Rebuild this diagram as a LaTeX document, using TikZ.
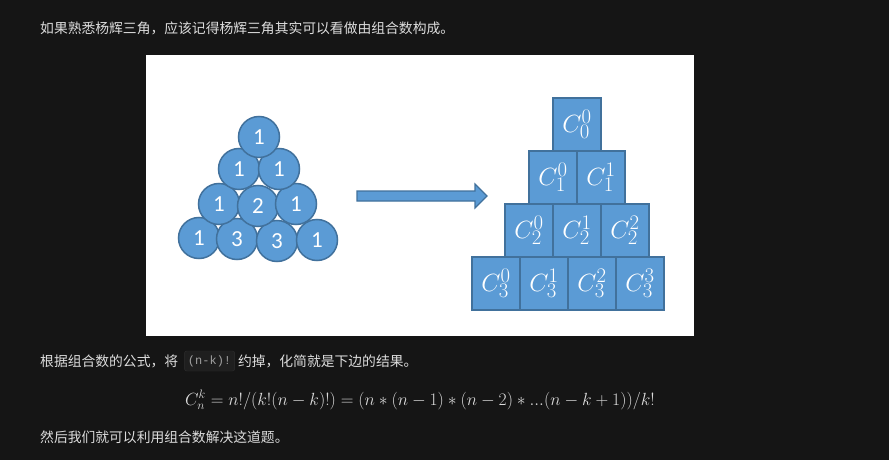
\documentclass[tikz,border=0pt]{standalone}
\usepackage{fontspec}
\newfontfamily\cjk{Noto Sans CJK SC}
\newfontfamily\calibri{Carlito}
\newfontfamily\codefont{Liberation Mono}
\usepackage{tikz}
\usetikzlibrary{positioning}

\definecolor{pagebg}{HTML}{151515}
\definecolor{pagetxt}{HTML}{DCDCDC}
\definecolor{codebg}{HTML}{1F1F1F}
\definecolor{codeline}{HTML}{2E2E2E}
\definecolor{codetxt}{HTML}{A0A0A0}
\definecolor{ballfill}{HTML}{5B9BD5}
\definecolor{ballline}{HTML}{41719C}

\tikzset{
  cntext/.style={anchor=west, inner sep=0pt, text=pagetxt,
                 font=\cjk\fontsize{13.8}{16}\selectfont},
  ball/.style={circle, draw=ballline, fill=ballfill, line width=1.5pt,
               minimum size=41pt, inner sep=0pt, text=white,
               font=\calibri\fontsize{23}{26}\selectfont},
  cell/.style={rectangle, draw=ballline, fill=ballfill, line width=1.5pt,
               minimum width=48pt, minimum height=53pt, inner sep=0pt,
               text=white, font=\fontsize{24.88}{28}\selectfont},
  codebox/.style={draw=codeline, fill=codebg, rounded corners=2pt,
                  minimum width=50pt, minimum height=20pt, inner sep=0pt,
                  text=codetxt, font=\codefont\fontsize{12}{14}\selectfont}
}

\begin{document}
\begin{tikzpicture}[x=1pt,y=-1pt]
\useasboundingbox (0,0) rectangle (889,460);
\fill[pagebg] (0,0) rectangle (889,460);

\node[cntext] (intro) at (40,28)
  {如果熟悉杨辉三角，应该记得杨辉三角其实可以看做由组合数构成。};

% picture panel
\fill[white] (146,55) rectangle (694,336);

% triangle of numbers
\foreach \x/\y/\v [count=\i] in {199/238/1,237/239/3,277/241/3,317/240/1,
                                 219/204/1,258/206/2,296/204/1,
                                 239/169/1,279/169/1,259/137/1}
  \node[ball] (ball\i) at (\x,\y) {\v};

% block arrow
\fill[ballfill,draw=ballline,line width=1.2pt]
  (357,191) -- (475,191) -- (475,184) -- (487,196)
  -- (475,208) -- (475,201) -- (357,201) -- cycle;

% triangle of binomials
\foreach \r/\s in {0/553,1/529,2/505,3/472}
  \foreach \k in {0,...,\r}
    \node[cell] (cell\r\k) at ({\s+24+48*\k},{124.5+53*\r}) {$C_{\r}^{\k}$};

% text below
\node[cntext] (rule) at (40,361) {根据组合数的公式，将};
\node[codebox, right=6pt of rule] (code) {(n-k)!};
\node[cntext, right=3pt of code] (rule2) {约掉，化简就是下边的结果。};

\node[text=pagetxt, inner sep=0pt, font=\LARGE, scale=1.02] (formula) at (420,400)
  {$C_n^k = n!/(k!(n-k)!) = (n*(n-1)*(n-2)*...(n-k+1))/k!$};

\node[cntext] (outro) at (40,437) {然后我们就可以利用组合数解决这道题。};
\end{tikzpicture}
\end{document}
